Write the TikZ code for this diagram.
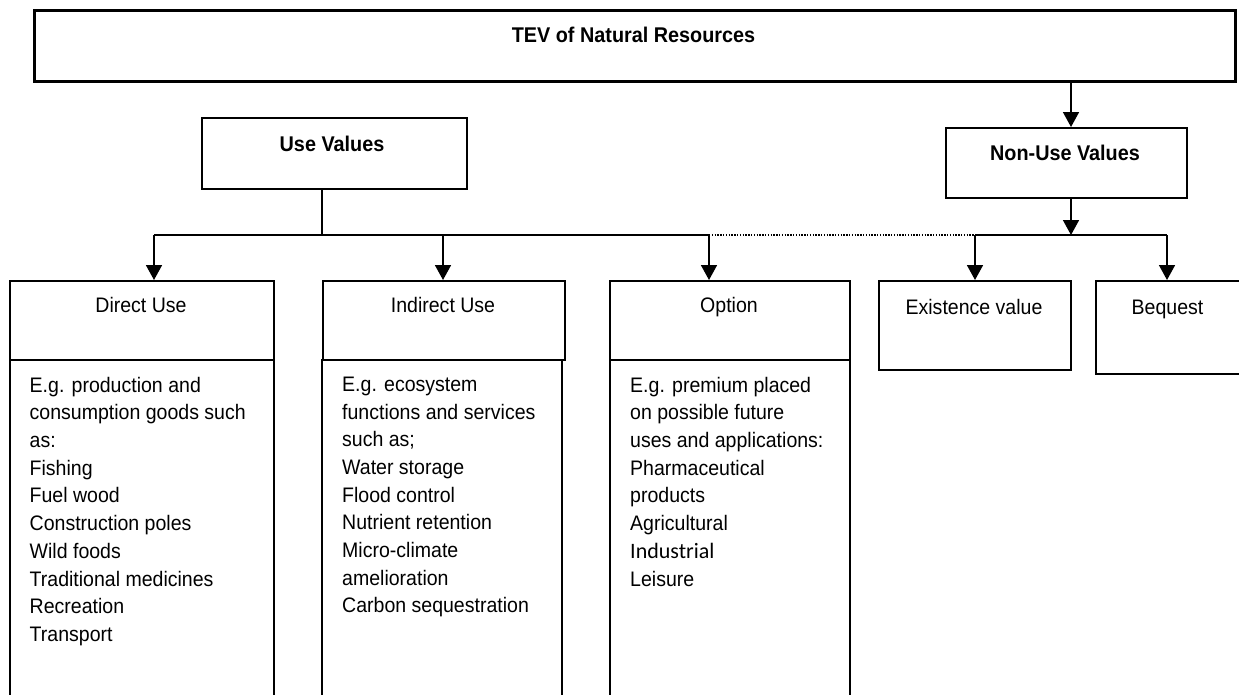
\documentclass[tikz,border=0pt]{standalone}
\usepackage{fontspec}
\setmainfont{Liberation Sans}[FakeStretch=0.93]
\newfontfamily\carlito{Carlito}
\usetikzlibrary{arrows.meta}
\tikzset{
  box/.style={draw, line width=1.5pt, inner sep=0pt, anchor=north west},
  bigbox/.style={box, line width=2.7pt},
  conn/.style={line width=1.7pt},
  arr/.style={conn, -{Triangle[length=15pt,width=16pt]}},
  dots/.style={line width=1.3pt, dash pattern=on 1.4pt off 1.4pt},
  bold/.style={font=\fontsize{21.3}{26}\selectfont\bfseries, inner sep=0pt, anchor=base},
  head/.style={font=\fontsize{21}{26}\selectfont, inner sep=0pt, anchor=base},
  body/.style={font=\fontsize{21}{27.7}\selectfont, align=left, inner sep=0pt, anchor=north west}
}
\begin{document}
\begin{tikzpicture}[x=1pt, y=-1pt]
\useasboundingbox (0,0) rectangle (1239,694);
\clip (0,0) rectangle (1239,694);
% boxes
\node[bigbox, minimum width=1201pt, minimum height=71pt] (tev) at (33,9) {};
\node[box, minimum width=265pt, minimum height=71pt] (usev) at (201,117) {};
\node[box, minimum width=241pt, minimum height=70pt] (nonuse) at (945,127) {};
\node[box, minimum width=264pt, minimum height=79pt] (direct) at (9,280) {};
\node[box, minimum width=264pt, minimum height=360pt] (directb) at (9,359) {};
\node[box, minimum width=242pt, minimum height=79pt] (indirect) at (322,280) {};
\node[box, minimum width=240pt, minimum height=360pt] (indirectb) at (321,359) {};
\node[box, minimum width=240pt, minimum height=79pt] (option) at (609,280) {};
\node[box, minimum width=240pt, minimum height=360pt] (optionb) at (609,359) {};
\node[box, minimum width=192pt, minimum height=89pt] (exist) at (878,280) {};
\node[box, minimum width=145pt, minimum height=93pt] (beq) at (1095,280) {};
% texts
\node[bold] (tevt) at (633.5,42.7) {TEV of Natural Resources};
\node[bold] (usevt) at (332,151.7) {Use Values};
\node[bold] (nonuset) at (1065,160) {Non-Use Values};
\node[head] (directt) at (141,312.7) {Direct Use};
\node[head] (indirectt) at (443,312.7) {Indirect Use};
\node[head] (optiont) at (729,312.7) {Option};
\node[head] (existt) at (974,314) {Existence value};
\node[head] (beqt) at (1167.5,314) {Bequest};
\node[body] (directtx) at (29.5,376.7) {E.g. production and\\consumption goods such\\as:\\Fishing\\Fuel wood\\Construction poles\\Wild foods\\Traditional medicines\\Recreation\\Transport};
\node[body] (indirecttx) at (342,376.7) {E.g. ecosystem\\functions and services\\such as;\\Water storage\\Flood control\\Nutrient retention\\Micro-climate\\amelioration\\Carbon sequestration};
\node[body] (optiontx) at (630,376.7) {E.g. premium placed\\on possible future\\uses and applications:\\Pharmaceutical\\products\\Agricultural\\{\carlito\fontsize{22}{27.7}\selectfont Industrial}\\Leisure};
% connector coordinates
\coordinate (nux) at (1071,0);
\coordinate (uvx) at (322,235);
\coordinate (busL) at (154,235);
\coordinate (busI) at (443,235);
\coordinate (busO) at (709,235);
\coordinate (busE) at (975,235);
\coordinate (busN) at (1071,235);
\coordinate (busB) at (1167,235);
% connectors
\draw[arr] (tev.south -| nux) -- (nonuse.north -| nux);
\draw[conn] (usev.south -| uvx) -- (uvx);
\draw[conn] (busL) -- (busO);
\draw[dots] (busO) -- (busE);
\draw[conn] (busE) -- (busB);
\draw[arr] (nonuse.south -| nux) -- (busN);
\draw[arr] (busL) -- (direct.north -| busL);
\draw[arr] (busI) -- (indirect.north -| busI);
\draw[arr] (busO) -- (option.north -| busO);
\draw[arr] (busE) -- (exist.north -| busE);
\draw[arr] (busB) -- (beq.north -| busB);
\end{tikzpicture}
\end{document}
